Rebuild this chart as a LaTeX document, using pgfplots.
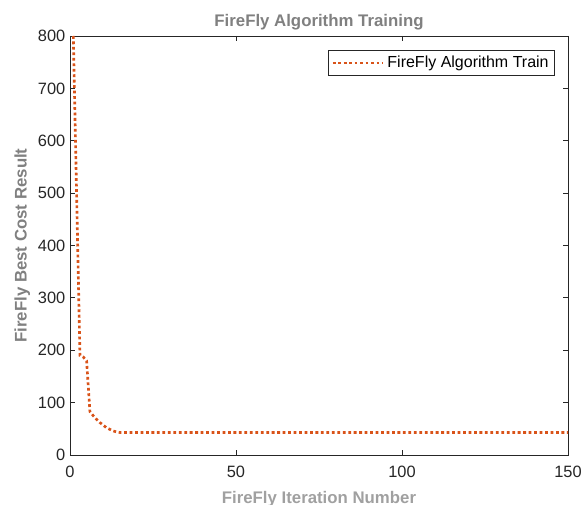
\documentclass[border=0pt]{standalone}
\usepackage{pgfplots}
\pgfplotsset{compat=1.18}
\usepackage{fontspec}
\setmainfont{Liberation Sans}
\definecolor{mlorange}{RGB}{217,83,25}
\definecolor{axgray}{RGB}{38,38,38}
\definecolor{labgray}{RGB}{128,128,128}
\definecolor{xlabgray}{RGB}{160,160,160}
\begin{document}
\begin{tikzpicture}
\begin{axis}[
  scale only axis,
  width=373.5pt, height=314.25pt,
  xmin=0, xmax=150, ymin=0, ymax=800,
  xtick={0,50,100,150}, ytick={0,100,...,800},
  tick align=inside, major tick length=4pt,
  axis line style={axgray, line width=0.6pt},
  every tick/.style={axgray, line width=0.6pt},
  tick label style={font=\fontsize{12.3}{14}\selectfont, text=axgray},
  xticklabel style={yshift=-5pt},
  yticklabel style={xshift=0pt},
  /pgf/number format/assume math mode=true,
  title={\bfseries FireFly Algorithm Training},
  title style={font=\fontsize{12.6}{15}\selectfont, text=labgray, yshift=-5pt},
  xlabel={\bfseries FireFly Iteration Number},
  xlabel style={font=\fontsize{12.6}{15}\selectfont, text=xlabgray, yshift=-3pt},
  ylabel={\bfseries FireFly Best Cost Result},
  ylabel style={font=\fontsize{12.6}{15}\selectfont, text=labgray, yshift=-1pt},
  legend style={at={(rel axis cs:0.974,0.967)}, anchor=north east, draw=axgray, line width=0.6pt,
    font=\fontsize{12}{14}\selectfont, inner sep=2.5pt, row sep=0pt},
  legend cell align=left,
  legend image code/.code={\draw[#1] (0pt,0pt) -- (38pt,0pt);},
]
\addplot[mlorange, line width=2pt, dash pattern=on 2.1pt off 2pt] coordinates {
(1,800) (2,495) (3,190) (4,187) (5,180) (6,83) (7,75) (8,68) (9,62) (10,57)
(11,52) (12,49) (13,46) (14,44) (15,43) (20,43) (40,43) (60,43) (80,43) (100,43) (120,43) (140,43) (150,43)
};
\addlegendentry{FireFly Algorithm Train}
\coordinate (sw) at (rel axis cs:0,0);
\end{axis}
\pgfresetboundingbox
\path (sw) ++(-52.5pt,-37.5pt) rectangle ++(436.5pt,378.75pt);
\end{tikzpicture}
\end{document}
